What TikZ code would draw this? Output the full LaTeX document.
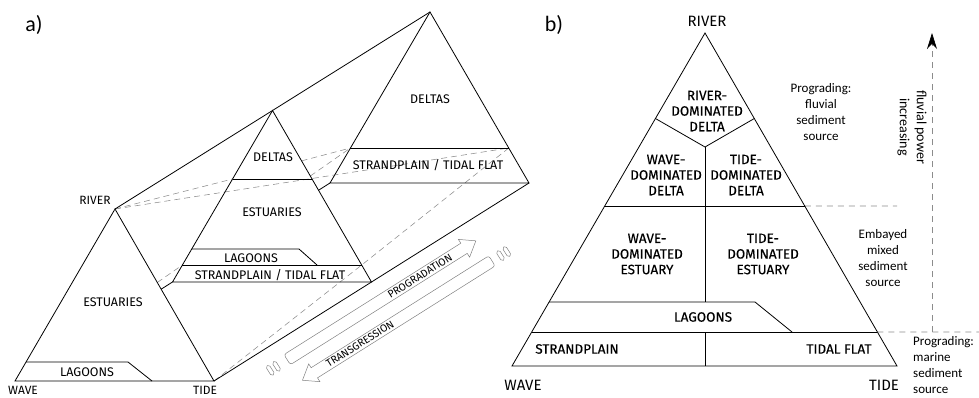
\documentclass[tikz,border=0pt]{standalone}
\usepackage{fontspec}
\setmainfont{Carlito}
\newfontfamily\din{Fira Sans}
\newfontfamily\dinb{Fira Sans}[FakeBold=0.35]
\usetikzlibrary{arrows.meta,calc}
\begin{document}
\begin{tikzpicture}[x=1pt,y=-1pt,line join=miter,
  blk/.style={line width=0.8pt,draw=black},
  hid/.style={dash pattern=on 6pt off 4pt,line width=0.55pt,draw=black!45},
  rhid/.style={dash pattern=on 6pt off 5pt,line width=0.7pt,draw=black!45},
  arr/.style={draw=black!50,line width=0.5pt},
  lab/.style={font=\din\fontsize{12.5}{14}\selectfont,inner sep=0pt},
  corner/.style={font=\din\fontsize{12}{14}\selectfont,inner sep=0pt},
  rcorner/.style={font=\din\fontsize{15}{17}\selectfont,inner sep=0pt},
  blab/.style={font=\dinb\fontsize{13.5}{15.6}\selectfont,align=center,inner sep=0pt},
  note/.style={font=\fontsize{13}{15.7}\selectfont,align=center,inner sep=0pt},
  alab/.style={font=\din\fontsize{10.5}{11}\selectfont,inner sep=0pt,rotate=32.2},
  panel/.style={font=\fontsize{22}{24}\selectfont,inner sep=0pt}
]
\useasboundingbox (0,0) rectangle (979,397);

% ---------- panel a ----------
\coordinate (FW) at (15,381);
\coordinate (FT) at (214,381);
\coordinate (FR) at (115,209);
\coordinate (MW) at (172.5,282);
\coordinate (MT) at (371.5,282);
\coordinate (MR) at (272.5,110.5);
\coordinate (BW) at (330,183);
\coordinate (BT) at (529,183);
\coordinate (BR) at (430,12);

\coordinate (Mdl) at ($(MR)!0.3994!(MW)$);
\coordinate (Mdr) at ($(MR)!0.3994!(MT)$);
\coordinate (Mll) at ($(MR)!0.8076!(MW)$);
\coordinate (Msl) at ($(MR)!0.9009!(MW)$);
\coordinate (Msr) at ($(MR)!0.9009!(MT)$);
\coordinate (Bsl) at ($(BR)!0.7953!(BW)$);
\coordinate (Bsr) at ($(BR)!0.7953!(BT)$);

% hidden / construction lines
\draw[hid] (FR) -- (Mdl);
\draw[hid] (intersection of Mdl--Bsl and MR--MT) -- (Bsl);
\draw[hid] (FR) -- (Bsr);
\draw[hid] (intersection of FW--Msl and FR--FT) -- (Msl);
\draw[hid] (intersection of Msl--Bsl and MR--MT) -- (Bsl);
\draw[hid] (FT) -- (Msr) -- (Bsr);

% ridges
\draw[blk] (FR) -- (BR);
\draw[blk] (FT) -- (BT);
\draw[blk] (intersection of FW--BW and FR--FT) -- (MW);
\draw[blk] (intersection of FW--BW and MR--MT) -- (BW);

% front triangle
\draw[blk] (FW) -- (FR) -- (FT) -- cycle;
\draw[blk] (26,362) -- (128,362) -- (152,381);

% middle triangle
\draw[blk] (MW) -- (MR) -- (MT) -- cycle;
\draw[blk] (Mdl) -- (Mdr);
\draw[blk] (Mll) -- (299,249) -- (317,265);
\draw[blk] (Msl) -- (Msr);

% back triangle
\draw[blk] (BW) -- (BR) -- (BT) -- cycle;
\draw[blk] (Bsl) -- (Bsr);

% labels panel a
\node[panel] (pa) at (34,25) {a)};
\node[corner] (lriver) at (95,200) {RIVER};
\node[corner] (lwave) at (23,390.5) {WAVE};
\node[corner] (ltide) at (205,390.5) {TIDE};
\node[lab] (fest) at (113,302) {ESTUARIES};
\node[lab] (flag) at (87,372) {LAGOONS};
\node[lab] (mdel) at (273,157) {DELTAS};
\node[lab] (mest) at (272,212) {ESTUARIES};
\node[lab] (mlag) at (251,258) {LAGOONS};
\node[lab] (mstr) at (270,275) {STRANDPLAIN / TIDAL FLAT};
\node[lab] (bdel) at (430,99) {DELTAS};
\node[lab] (bstr) at (428,165) {STRANDPLAIN / TIDAL FLAT};

% progradation arrow
\begin{scope}[shift={(420,276)},rotate=32.2]
  \draw[arr] (-100,-6) -- (52,-6) -- (52,-10.5) -- (66,0) -- (52,10.5) -- (52,6) -- (-100,6);
  \draw[arr,rounded corners=2.5pt] (-100,6) -- (-157,6) -- (-157,-6) -- (-100,-6);
  \draw[arr,rounded corners=1.8pt] (-179,-5.5) rectangle (-175,5.5);
  \draw[arr,rounded corners=1.8pt] (-171.5,-5.5) rectangle (-167.5,5.5);
\end{scope}
\node[alab] (prog) at (420,276) {PROGRADATION};

% transgression arrow
\begin{scope}[shift={(360,344)},rotate=32.2]
  \draw[arr] (100,-6) -- (-54,-6) -- (-54,-10.5) -- (-68,0) -- (-54,10.5) -- (-54,6) -- (100,6);
  \draw[arr,rounded corners=2.5pt] (100,6) -- (156,6) -- (156,-6) -- (100,-6);
  \draw[arr,rounded corners=1.8pt] (164,-5.5) rectangle (168,5.5);
  \draw[arr,rounded corners=1.8pt] (171.5,-5.5) rectangle (175.5,5.5);
\end{scope}
\node[alab] (trans) at (360,344) {TRANSGRESSION};

% ---------- panel b ----------
\coordinate (RR) at (705,33);
\coordinate (RW) at (512,366);
\coordinate (RT) at (897,366);
\coordinate (Vl) at ($(RR)!0.2568!(RW)$);
\coordinate (Vr) at ($(RR)!0.2568!(RT)$);
\coordinate (Vc) at (705,147);
\coordinate (Hl) at ($(RR)!0.5195!(RW)$);
\coordinate (Hr) at ($(RR)!0.5195!(RT)$);
\coordinate (Ll) at ($(RR)!0.8078!(RW)$);
\coordinate (Sl) at ($(RR)!0.8979!(RW)$);
\coordinate (Sr) at ($(RR)!0.8979!(RT)$);

\draw[rhid] (Hr) -- (897,206);
\draw[rhid] (Sr) -- (979,332);
\draw[rhid,-{Stealth[length=16pt,width=10pt,color=black,fill=black]}] (932,332) -- (932,33);

\draw[blk] (RW) -- (RR) -- (RT) -- cycle;
\draw[blk] (Vl) -- (Vc) -- (Vr);
\draw[blk] (Vc) -- (705,302);
\draw[blk] (705,332) -- (705,366);
\draw[blk] (Hl) -- (Hr);
\draw[blk] (Ll) -- (755,302) -- (792,332);
\draw[blk] (Sl) -- (Sr);

\node[panel] (pb) at (554,25) {b)};
\node[rcorner] (rriver) at (707,21) {RIVER};
\node[rcorner] (rwave) at (523,385) {WAVE};
\node[rcorner] (rtide) at (884,385) {TIDE};

\node[blab] (rdd) at (707,111) {RIVER-\\DOMINATED\\DELTA};
\node[blab] (wdd) at (666,175) {WAVE-\\DOMINATED\\DELTA};
\node[blab] (tdd) at (746,175) {TIDE-\\DOMINATED\\DELTA};
\node[blab] (wde) at (647,254) {WAVE-\\DOMINATED\\ESTUARY};
\node[blab] (tde) at (763,254) {TIDE-\\DOMINATED\\ESTUARY};
\node[blab] (rlag) at (703,317) {LAGOONS};
\node[blab] (rstr) at (577,349) {STRANDPLAIN};
\node[blab] (rtf) at (839,349) {TIDAL FLAT};

\node[note] (n1) at (821,112) {Prograding:\\fluvial\\sediment\\source};
\node[note] (n2) at (883,258) {Embayed\\mixed\\sediment\\source};
\node[note,align=left,anchor=west] (n3) at (913,365) {Prograding:\\marine\\sediment\\source};
\node[note,font=\fontsize{14}{17}\selectfont,rotate=-90] (n4) at (912,127) {fluvial power\\increasing};
\end{tikzpicture}
\end{document}
